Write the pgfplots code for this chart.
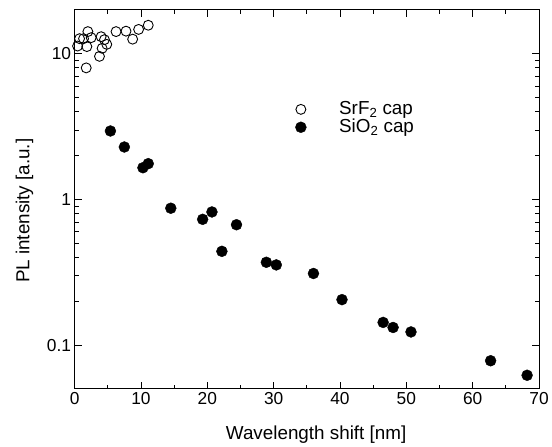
\documentclass[border=0pt]{standalone}
\usepackage{fontspec}
\setmainfont{Liberation Sans}
\usepackage{pgfplots}
\pgfplotsset{compat=1.18}
\begin{document}
\begin{tikzpicture}
\begin{axis}[
  scale only axis, width=467bp, height=381bp,
  xmin=0, xmax=70, ymode=log, ymin=0.05, ymax=20,
  xtick={0,10,...,70}, minor x tick num=1,
  ytick={0.1,1,10}, yticklabels={0.1,1,10},
  tick align=inside, major tick length=7bp, minor tick length=4bp,
  every tick/.style={black, line width=0.8bp},
  axis line style={line width=1bp},
  ticklabel style={font=\fontsize{17.5}{20}\selectfont},
  /pgf/number format/assume math mode=true,
  xlabel={Wavelength shift [nm]}, ylabel={PL intensity [a.u.]},
  label style={font=\fontsize{19}{22}\selectfont},
  xlabel style={at={(axis description cs:0.52,-0.12)}, anchor=center},
  ylabel style={at={(axis description cs:-0.108,0.47)}, anchor=center},
  legend style={draw=none, fill=none, at={(0.475,0.714)}, anchor=west,
    inner sep=0pt, row sep=0pt, font=\fontsize{19}{21}\selectfont,
    nodes={inner sep=1bp, text height=13bp, text depth=3bp},
    /tikz/every odd column/.append style={column sep=32bp}},
  legend cell align=left,
  legend image code/.code={\draw[#1] plot coordinates {(0bp,0bp)};},
  clip=false,
]
\addplot[only marks, mark=o, mark size=5bp, black, line width=0.9bp, mark options={fill=white}] coordinates {
(0.75,12.7) (0.45,11.3) (1.35,12.7) (2.0,14.2) (2.5,12.9) (1.85,11.2) (1.75,8.0)
(4.0,13.1) (4.5,12.5) (4.85,11.6) (4.15,10.9) (3.75,9.6)
(6.25,14.2) (7.75,14.3) (8.75,12.6) (9.65,14.7) (11.1,15.7)
};
\addlegendentry{SrF\textsubscript{2} cap}
\addplot[only marks, mark=*, mark size=5.5bp, black] coordinates {
(5.4,2.95) (7.5,2.29) (10.3,1.65) (11.1,1.76) (14.5,0.87) (19.3,0.73)
(20.7,0.82) (22.2,0.44) (24.4,0.67) (28.9,0.37) (30.4,0.355) (36.0,0.31)
(40.3,0.205) (46.5,0.143) (48.0,0.132) (50.7,0.123) (62.7,0.078) (68.2,0.062)
};
\addlegendentry{SiO\textsubscript{2} cap}
\end{axis}
\path ([xshift=-75bp,yshift=-58bp]current axis.south west) rectangle ([xshift=10bp,yshift=10bp]current axis.north east);
\end{tikzpicture}
\end{document}
